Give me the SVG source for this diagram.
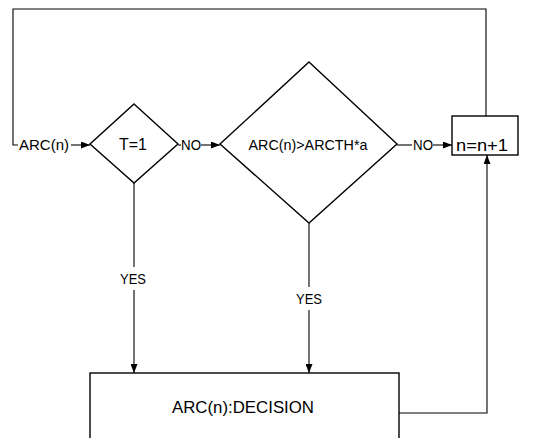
<svg xmlns="http://www.w3.org/2000/svg" width="541" height="438" viewBox="0 0 541 438">
<style>
.shape{fill:none;stroke:#000;stroke-width:1.4}
.ln{fill:none;stroke:#000;stroke-width:1.1}
text{font-family:"Liberation Sans",Arial,sans-serif;fill:#000}
.lbl{font-size:15px}
.node{font-size:17px}
</style>
<defs>
<marker id="ah" markerWidth="9" markerHeight="7" refX="9" refY="3.5" orient="auto" markerUnits="userSpaceOnUse">
<path d="M0,0 L9,3.5 L0,7 Z" fill="#000"/>
</marker>
</defs>
<rect width="541" height="438" fill="#fff"/>
<g id="connectors">
<polyline class="ln" points="486,116 486,9 13,9 13,145 18,145"/>
<line class="ln" x1="71" y1="145" x2="90" y2="145" marker-end="url(#ah)"/>
<line class="ln" x1="178" y1="145" x2="181" y2="145"/>
<line class="ln" x1="201" y1="145" x2="220" y2="145" marker-end="url(#ah)"/>
<line class="ln" x1="397" y1="145" x2="412" y2="145"/>
<line class="ln" x1="433" y1="145" x2="452" y2="145" marker-end="url(#ah)"/>
<line class="ln" x1="134" y1="183" x2="134" y2="267"/>
<line class="ln" x1="134" y1="290" x2="134" y2="373" marker-end="url(#ah)"/>
<line class="ln" x1="309" y1="223" x2="309" y2="287"/>
<line class="ln" x1="309" y1="310" x2="309" y2="373" marker-end="url(#ah)"/>
<polyline class="ln" points="399,413 487,413 487,155" marker-end="url(#ah)"/>
<text class="lbl" x="44" y="150" text-anchor="middle" textLength="50" lengthAdjust="spacingAndGlyphs">ARC(n)</text>
<text class="lbl" x="191" y="150" text-anchor="middle" textLength="20" lengthAdjust="spacingAndGlyphs">NO</text>
<text class="lbl" x="423" y="150" text-anchor="middle" textLength="20" lengthAdjust="spacingAndGlyphs">NO</text>
<text class="lbl" x="133" y="284" text-anchor="middle" textLength="26" lengthAdjust="spacingAndGlyphs">YES</text>
<text class="lbl" x="309" y="304" text-anchor="middle" textLength="26" lengthAdjust="spacingAndGlyphs">YES</text>
</g>
<g id="cond1">
<polygon class="shape" points="134,104 178,144 134,183 90,144"/>
<text class="node" x="133" y="150" text-anchor="middle" textLength="28" lengthAdjust="spacingAndGlyphs">T=1</text>
</g>
<g id="cond2">
<polygon class="shape" points="309,62 397,144 309,223 220,144"/>
<text class="lbl" x="308" y="150" text-anchor="middle" textLength="119" lengthAdjust="spacingAndGlyphs">ARC(n)&gt;ARCTH*a</text>
</g>
<g id="increment">
<rect class="shape" x="452" y="116" width="66" height="39"/>
<text class="node" x="482" y="151" text-anchor="middle" textLength="52" lengthAdjust="spacingAndGlyphs">n=n+1</text>
</g>
<g id="decision">
<rect class="shape" x="90" y="373" width="309" height="75"/>
<text class="node" x="243" y="413" text-anchor="middle" textLength="142" lengthAdjust="spacingAndGlyphs">ARC(n):DECISION</text>
</g>
</svg>
